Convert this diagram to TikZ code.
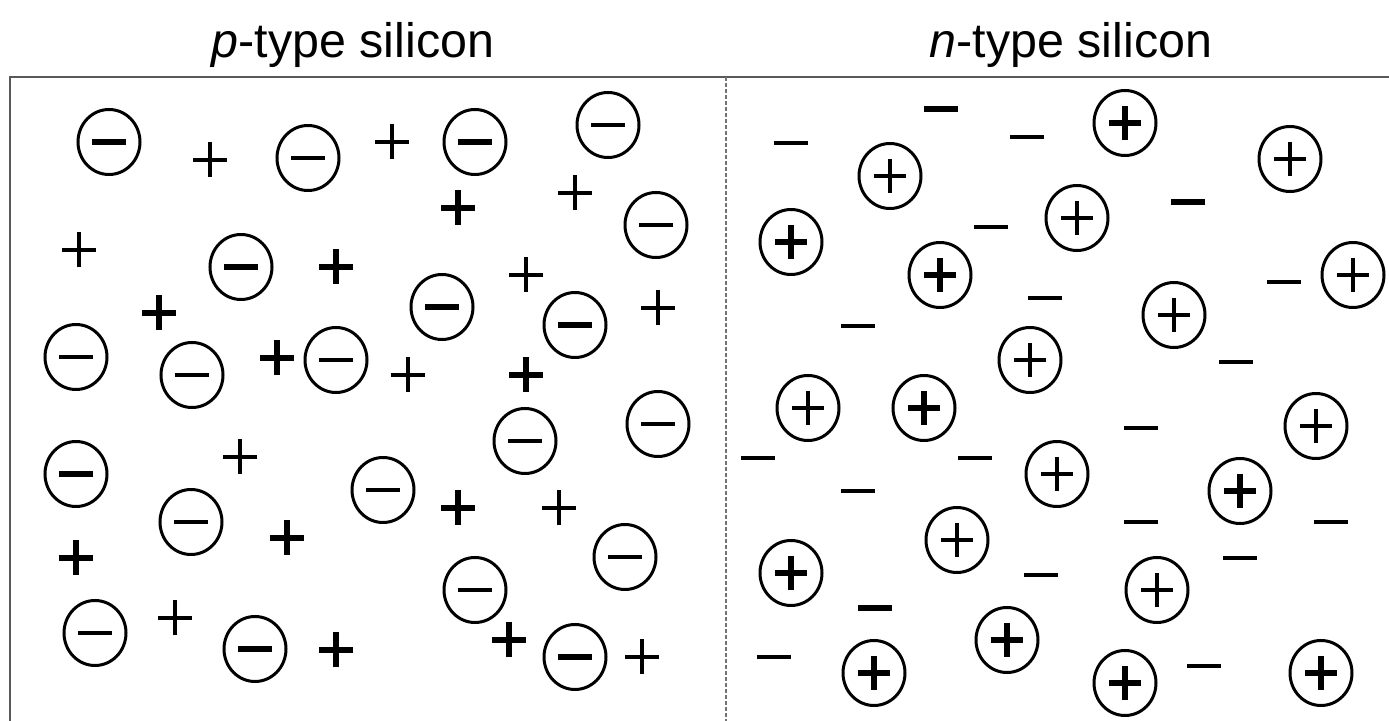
\documentclass[tikz,border=0pt]{standalone}
\usepackage{fontspec}
\setmainfont{Liberation Sans}
\begin{document}
\begin{tikzpicture}[x=0.5pt,y=-0.5pt,line width=2pt,line cap=butt,
  frame/.style={draw=black!65,line width=1pt},
  divider/.style={draw=black!55,line width=0.9pt,dash pattern=on 2pt off 1pt},
  ring/.style={draw,line width=1.5pt},
  bold/.style={line width=3.3pt},
  heading/.style={anchor=base,inner sep=0pt,font=\fontsize{24.2}{29}\selectfont},
  negion/.pic={\draw[ring] (0,0) ellipse [x radius=31,y radius=32.5];
                \draw (-17,0) -- (17,0);},
  posion/.pic={\draw[ring] (0,0) ellipse [x radius=31,y radius=32.5];
                \draw (-16,0) -- (16,0) (0,-17) -- (0,17);},
  hole/.pic={\draw (-17,0) -- (17,0) (0,-17.5) -- (0,17.5);},
  elec/.pic={\draw (-17,0) -- (17,0);}
]
\useasboundingbox (0,0) rectangle (1389,721);

% headings
\node[heading] (ptitle) at (353,58) {\textit{p}-type silicon};
\node[heading] (ntitle) at (1071,58) {\textit{n}-type silicon};

% frame and junction line
\draw[frame] (1389,77) -- (10,77) -- (10,721);
\coordinate (jtop) at (726,77);
\coordinate (jbot) at (726,721);
\draw[divider] (jtop) -- (jbot);

% p side: ionised acceptors
\pic[bold] at (109,142) {negion};
\pic at (308,158) {negion};
\pic[bold] at (475,142) {negion};
\pic at (608,125) {negion};
\pic at (656,225) {negion};
\pic[bold] at (241,267) {negion};
\pic[bold] at (442,307) {negion};
\pic[bold] at (575,325) {negion};
\pic at (76,357) {negion};
\pic at (192,375) {negion};
\pic at (336,360) {negion};
\pic at (525,441) {negion};
\pic at (658,424) {negion};
\pic[bold] at (76,474) {negion};
\pic at (383,490) {negion};
\pic at (191,522) {negion};
\pic at (625,557) {negion};
\pic at (475,590) {negion};
\pic at (95,633) {negion};
\pic[bold] at (255,649) {negion};
\pic[bold] at (575,657) {negion};

% p side: holes
\pic at (210,160) {hole};
\pic at (392,142) {hole};
\pic at (575,193) {hole};
\pic[bold] at (458,208) {hole};
\pic at (79,250) {hole};
\pic[bold] at (336,267) {hole};
\pic at (526,275) {hole};
\pic at (658,308) {hole};
\pic[bold] at (159,313) {hole};
\pic[bold] at (277,358) {hole};
\pic at (408,375) {hole};
\pic[bold] at (526,375) {hole};
\pic at (240,457) {hole};
\pic[bold] at (458,508) {hole};
\pic at (559,508) {hole};
\pic[bold] at (287,538) {hole};
\pic[bold] at (76,558) {hole};
\pic at (175,618) {hole};
\pic[bold] at (336,650) {hole};
\pic[bold] at (509,640) {hole};
\pic at (642,657) {hole};

% n side: ionised donors
\pic[bold] at (1125,123) {posion};
\pic at (890,176) {posion};
\pic at (1290,159) {posion};
\pic[bold] at (791,242) {posion};
\pic at (1077,218) {posion};
\pic[bold] at (940,275) {posion};
\pic at (1353,275) {posion};
\pic at (1174,315) {posion};
\pic at (1030,360) {posion};
\pic at (808,408) {posion};
\pic[bold] at (924,408) {posion};
\pic at (1316,426) {posion};
\pic at (1057,474) {posion};
\pic[bold] at (1240,491) {posion};
\pic at (957,540) {posion};
\pic[bold] at (791,573) {posion};
\pic at (1157,590) {posion};
\pic[bold] at (1007,640) {posion};
\pic[bold] at (874,673) {posion};
\pic[bold] at (1125,683) {posion};
\pic[bold] at (1321,673) {posion};

% n side: electrons
\pic at (791,143) {elec};
\pic[bold] at (941,109) {elec};
\pic at (1027,137) {elec};
\pic[bold] at (1188,202) {elec};
\pic at (991,227) {elec};
\pic at (1284,282) {elec};
\pic at (1045,298) {elec};
\pic at (858,326) {elec};
\pic at (1236,362) {elec};
\pic at (1141,428) {elec};
\pic at (758,458) {elec};
\pic at (975,458) {elec};
\pic at (858,491) {elec};
\pic at (1141,522) {elec};
\pic at (1331,522) {elec};
\pic at (1240,558) {elec};
\pic at (1041,575) {elec};
\pic[bold] at (875,608) {elec};
\pic at (774,657) {elec};
\pic at (1204,666) {elec};
\end{tikzpicture}
\end{document}
